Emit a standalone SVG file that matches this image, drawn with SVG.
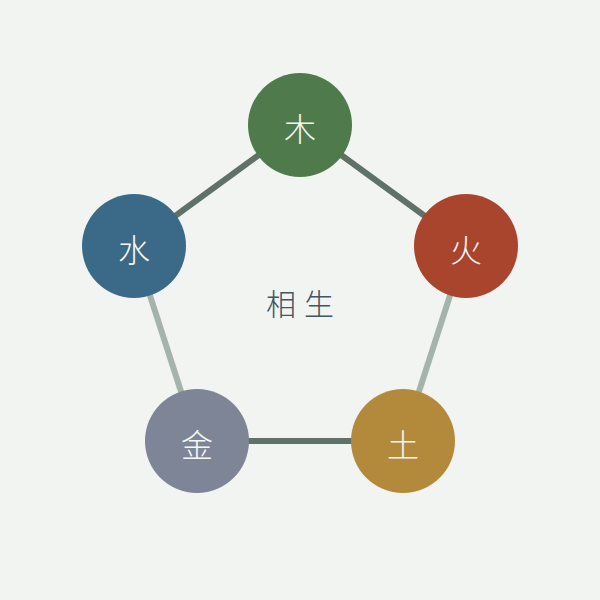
<svg xmlns="http://www.w3.org/2000/svg" width="600" height="600" viewBox="0 0 600 600">
<style>
.bg{fill:#f2f4f1}
.dark{stroke:#5e7268;stroke-width:6;fill:none}
.light{stroke:#a4b4ab;stroke-width:6;fill:none}
.lbl{font-family:"Noto Sans CJK SC","Noto Sans CJK JP",sans-serif;font-weight:300;font-size:32px;fill:#f7f7f4;text-anchor:middle;dominant-baseline:central}
.center{font-family:"Noto Sans CJK SC","Noto Sans CJK JP",sans-serif;font-weight:300;font-size:30px;fill:#3f5666;text-anchor:middle;dominant-baseline:central;letter-spacing:8px}
</style>
<rect class="bg" x="0" y="0" width="600" height="600"/>
<g id="connectors">
<line class="dark" x1="300" y1="125" x2="466" y2="246"/>
<line class="light" x1="466" y1="246" x2="403" y2="441"/>
<line class="dark" x1="403" y1="441" x2="197" y2="441"/>
<line class="light" x1="197" y1="441" x2="134" y2="246"/>
<line class="dark" x1="134" y1="246" x2="300" y2="125"/>
</g>
<g id="wood"><circle cx="300" cy="125" r="52" fill="#4f7b4c"/><text class="lbl" x="300" y="127">木</text></g>
<g id="fire"><circle cx="466" cy="246" r="52" fill="#a8452c"/><text class="lbl" x="466" y="248">火</text></g>
<g id="earth"><circle cx="403" cy="441" r="52" fill="#b38a3c"/><text class="lbl" x="403" y="443">土</text></g>
<g id="metal"><circle cx="197" cy="441" r="52" fill="#7d8597"/><text class="lbl" x="197" y="443">金</text></g>
<g id="water"><circle cx="134" cy="246" r="52" fill="#3a6a87"/><text class="lbl" x="134" y="248">水</text></g>
<g id="center"><text class="center" x="304" y="302">相生</text></g>
</svg>
